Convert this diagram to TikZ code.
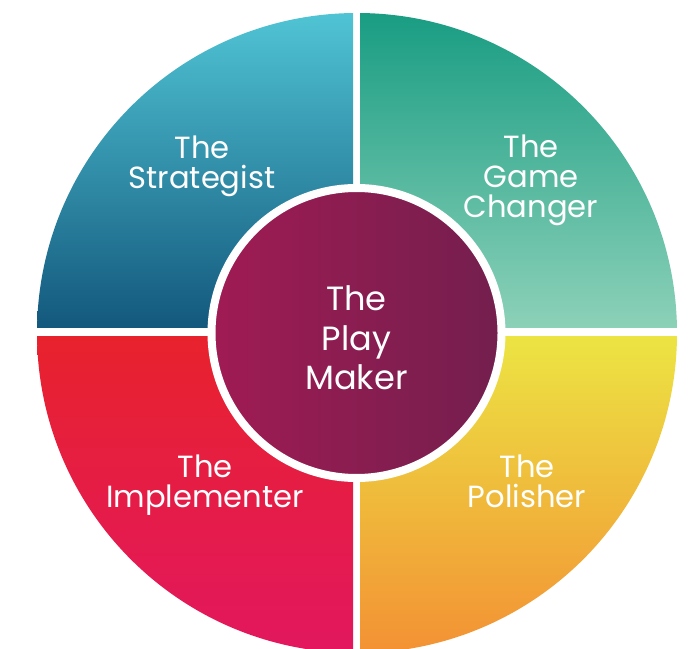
\documentclass[tikz,border=0pt]{standalone}
\usepackage{fontspec}
\setmainfont{Poppins}
\usepackage{xcolor}
\usepackage{tikz}
\usetikzlibrary{positioning}

\definecolor{stratTop}{HTML}{50C4D4}
\definecolor{stratBot}{HTML}{13587D}
\definecolor{gameTop}{HTML}{199D83}
\definecolor{gameBot}{HTML}{8CD1B8}
\definecolor{implTop}{HTML}{E8222D}
\definecolor{implBot}{HTML}{E2175F}
\definecolor{polTop}{HTML}{ECE443}
\definecolor{polBot}{HTML}{F39134}
\definecolor{makerL}{HTML}{A01B53}
\definecolor{makerR}{HTML}{731F4E}

\begin{document}
\begin{tikzpicture}[x=0.5pt,y=0.5pt,
    role/.style={text=white, align=center, font=\fontsize{15.3}{15}\selectfont},
    core/.style={circle, draw=white, line width=4pt, minimum size=145pt,
        left color=makerL, right color=makerR},
    coretext/.style={text=white, align=center, font=\fontsize{16.8}{19.8}\selectfont}]

    \useasboundingbox (0,0) rectangle (689,648);
    \coordinate (C) at (357,315);

    %------------------------------------------------

    \begin{scope}
        \clip (C) circle (320);
        \shade[top color=stratTop, bottom color=stratBot] (37,320) rectangle (353,635);
        \shade[top color=gameTop, bottom color=gameBot] (360,320) rectangle (677,635);
        \shade[top color=implTop, bottom color=implBot] (37,-5) rectangle (353,311);
        \shade[top color=polTop, bottom color=polBot] (360,-5) rectangle (677,311);
    \end{scope}

    %------------------------------------------------

    \node[core] (ring) at (356.5,315) {};

    \node[coretext] (maker) at ([yshift=-2.5pt]ring.center)
    { The\\Play\\Maker };

    \node[role] (strat) at (202,482)
    { The\\Strategist };

    \node[role] (game) at (531,468)
    { The\\Game\\Changer };

    \node[role] (impl) at (205,163)
    { The\\Implementer };

    \node[role] (polish) at (527,167)
    { The\\Polisher };
\end{tikzpicture}
\end{document}
